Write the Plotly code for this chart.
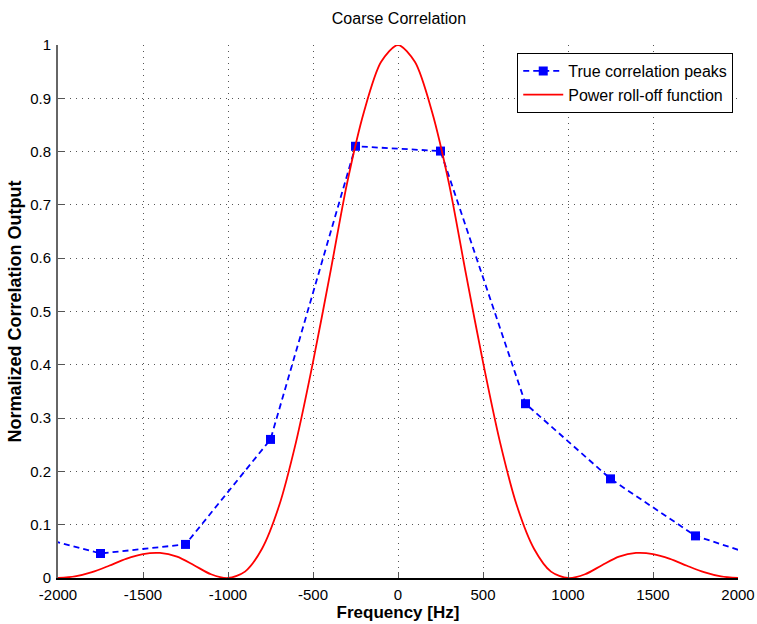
import plotly.graph_objects as go

# True correlation peaks; outer points lie beyond axis range
peak_freq = [-2250, -1750, -1250, -750, -250, 250, 750, 1250, 1750, 2250]
peak_val = [0.088, 0.046, 0.063, 0.260, 0.810, 0.801, 0.327, 0.186, 0.079, 0.027]

# Power roll-off function (every 100 Hz)
roll_freq = list(range(-2000, 2001, 100))
roll_half = [0.0, 0.003, 0.011, 0.023, 0.036, 0.045, 0.047, 0.040, 0.024, 0.007,
             0.0, 0.012, 0.055, 0.135, 0.255, 0.405, 0.57, 0.74, 0.875, 0.968]
roll_val = roll_half + [1.0] + roll_half[::-1]

xticks = [-2000, -1500, -1000, -500, 0, 500, 1000, 1500, 2000]
yticks = [0, 0.1, 0.2, 0.3, 0.4, 0.5, 0.6, 0.7, 0.8, 0.9, 1]

font_fam = "Liberation Sans, Arial, sans-serif"

fig = go.Figure()
fig.add_trace(go.Scatter(
    x=peak_freq, y=peak_val, mode="lines+markers",
    name="True correlation peaks",
    line=dict(color="#0000ff", width=1.8, dash="6px,4px"),
    marker=dict(symbol="square", size=9, color="#0000ff"),
))
fig.add_trace(go.Scatter(
    x=roll_freq, y=roll_val, mode="lines",
    name="Power roll-off function",
    line=dict(color="#ff0000", width=1.8, shape="spline", smoothing=0.8),
))

fig.update_layout(
    width=757, height=624,
    margin=dict(l=58, r=19, t=45, b=46),
    paper_bgcolor="white", plot_bgcolor="white",
    font=dict(family=font_fam, color="black"),
    title=dict(text="Coarse Correlation", x=0.527, xanchor="center",
               y=0.971, yanchor="middle", font=dict(size=16)),
    showlegend=True,
    legend=dict(x=0.993, y=0.985, xanchor="right", yanchor="top",
                bgcolor="white", bordercolor="black", borderwidth=1,
                font=dict(size=16, family=font_fam), tracegroupgap=0,
                itemwidth=40),
)
fig.update_xaxes(
    range=[-2000, 2000], tickvals=xticks, ticktext=[str(v) for v in xticks],
    showgrid=True, gridcolor="#555555", griddash="1px,5px", gridwidth=1,
    showline=True, linecolor="black", linewidth=2,
    ticks="inside", ticklen=6, tickcolor="#555555",
    tickfont=dict(size=15), zeroline=False, automargin=False,
    ticklabelstandoff=2,
    title=dict(text="<b>Frequency [Hz]</b>", font=dict(size=17), standoff=0),
)
fig.update_yaxes(
    range=[0, 1], tickvals=yticks, ticktext=[("%g" % v) for v in yticks],
    showgrid=True, gridcolor="#555555", griddash="1px,5px", gridwidth=1,
    showline=True, linecolor="#666666", linewidth=2,
    ticks="inside", ticklen=6, tickcolor="#555555",
    tickfont=dict(size=15), zeroline=False, automargin=False,
    ticklabelstandoff=2,
    title=dict(text="<b>Normalized Correlation Output</b>", font=dict(size=18), standoff=4),
)

fig.write_html("out.html")
